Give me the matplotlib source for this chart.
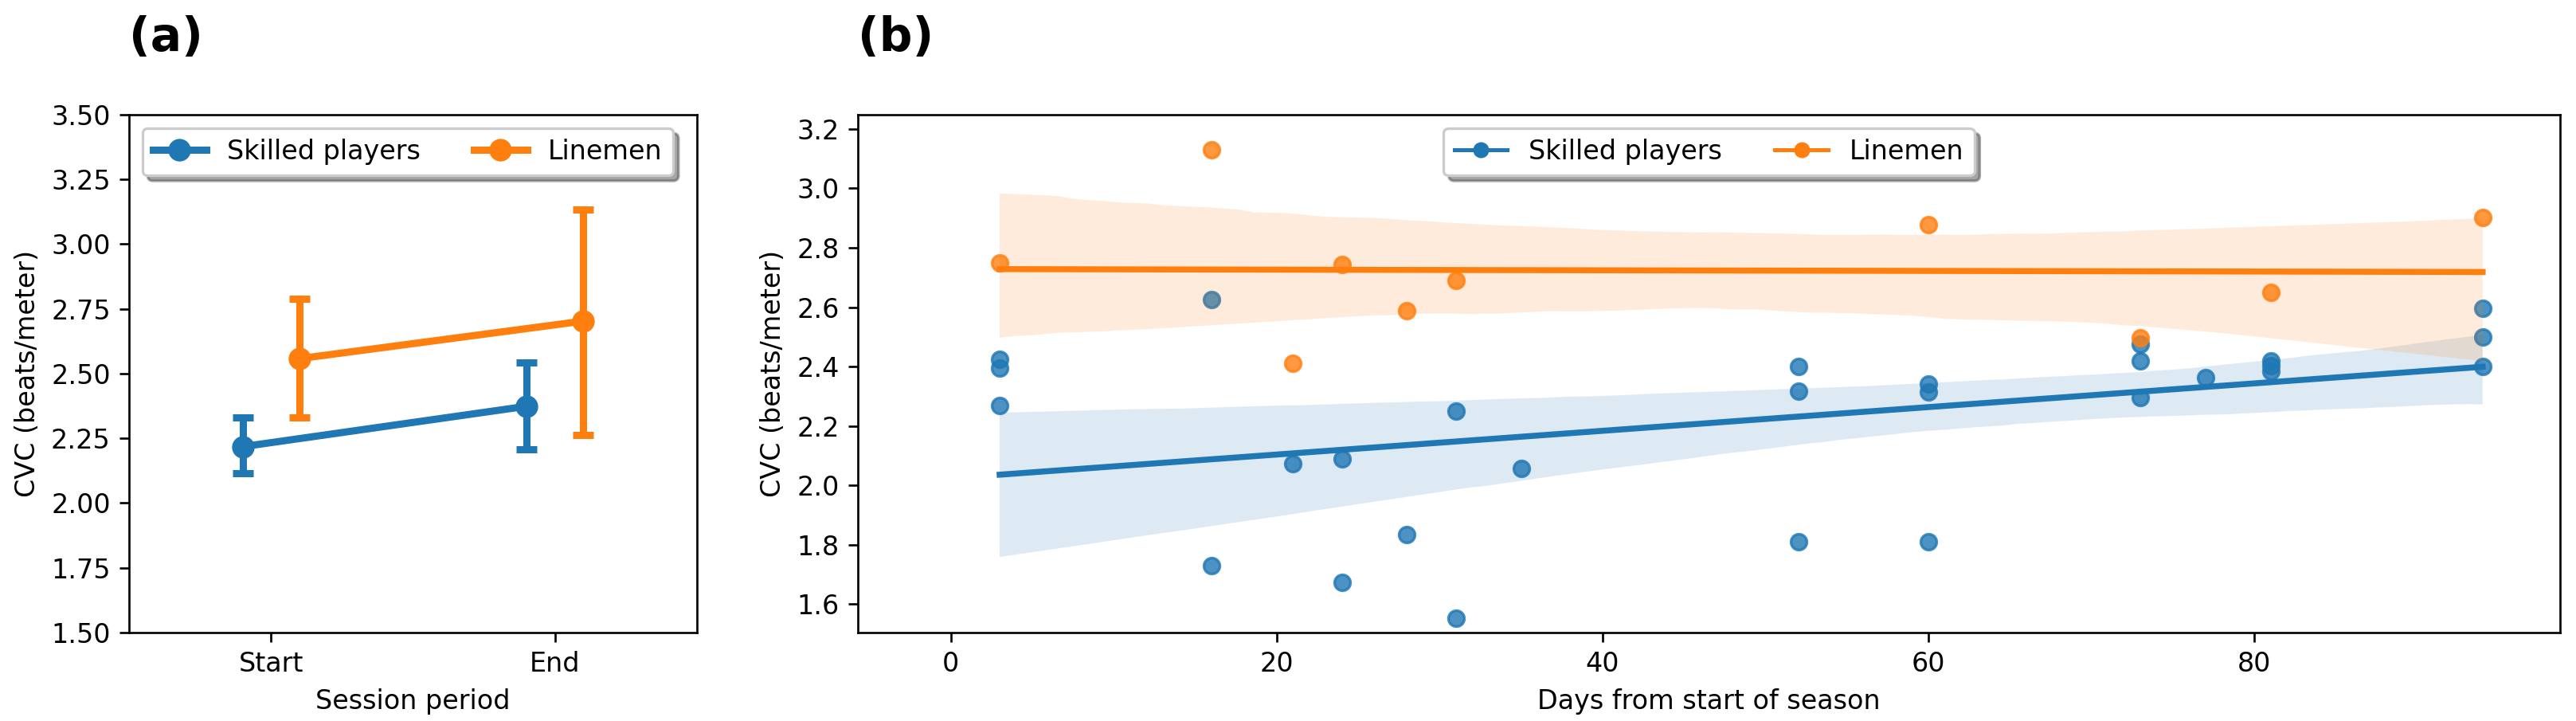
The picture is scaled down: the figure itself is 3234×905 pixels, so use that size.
import matplotlib
matplotlib.use("Agg")
import matplotlib.pyplot as plt
from matplotlib.lines import Line2D
import numpy as np
import seaborn as sns

# ---- Panel (a) data: mean CVC with 95% CI by session period ----
periods = ["Start", "End"]
skilled_mean = [2.218, 2.374]
skilled_lo = [2.114, 2.209]
skilled_hi = [2.332, 2.542]
linemen_mean = [2.558, 2.703]
linemen_lo = [2.332, 2.264]
linemen_hi = [2.790, 3.134]

# ---- Panel (b) data: CVC vs days from start of season ----
skilled_days = [3, 3, 3, 16, 16, 21, 24, 24, 28, 31, 31, 35, 52, 52, 52,
                60, 60, 60, 73, 73, 73, 77, 81, 81, 81, 94, 94, 94]
skilled_cvc = [2.423, 2.396, 2.270, 2.626, 1.730, 2.072, 2.090, 1.672, 1.834,
               2.251, 1.551, 2.057, 2.401, 2.318, 1.809, 2.342, 2.314, 1.809,
               2.476, 2.420, 2.295, 2.363, 2.418, 2.404, 2.385, 2.597, 2.500, 2.401]
linemen_days = [3, 16, 21, 24, 28, 31, 60, 73, 81, 94]
linemen_cvc = [2.748, 3.131, 2.412, 2.744, 2.587, 2.689, 2.879, 2.496, 2.650, 2.902]

groups = ["Skilled players", "Linemen"]
colors = ["#1f77b4", "#ff7f0e"]

W, H, DPI = 3234, 905, 240
fig = plt.figure(figsize=(W / DPI, H / DPI), dpi=DPI)
ax1 = fig.add_axes([162 / W, 1 - 794 / H, (875 - 162) / W, 650 / H])
ax2 = fig.add_axes([1077 / W, 1 - 794 / H, (3214 - 1077) / W, 650 / H])

# ---- Panel (a) ----
x = np.arange(len(periods))
dodge = 0.1
for i, (m, lo, hi) in enumerate([(skilled_mean, skilled_lo, skilled_hi),
                                  (linemen_mean, linemen_lo, linemen_hi)]):
    m = np.array(m); lo = np.array(lo); hi = np.array(hi)
    off = -dodge if i == 0 else dodge
    ax1.errorbar(x + off, m, yerr=[m - lo, hi - m], fmt="-o", color=colors[i],
                 lw=2.7, markersize=7.5, capsize=3.8, capthick=2.7, elinewidth=2.7)
ax1.set_xticks(x)
ax1.set_xticklabels(periods)
ax1.set_xlim(-0.5, 1.5)
ax1.set_ylim(1.5, 3.5)
ax1.set_yticks(np.arange(1.5, 3.51, 0.25))
ax1.set_yticklabels([f"{v:.2f}" for v in np.arange(1.5, 3.51, 0.25)])
ax1.set_xlabel("Session period")
ax1.set_ylabel("CVC (beats/meter)")
h1 = [Line2D([], [], color=c, marker="o", lw=2.7, markersize=7.5) for c in colors]
ax1.legend(h1, groups, loc="upper left", ncol=2, shadow=True)

# ---- Panel (b) ----
sns.regplot(x=np.array(skilled_days), y=np.array(skilled_cvc), ax=ax2,
            color=colors[0], seed=0, truncate=True)
sns.regplot(x=np.array(linemen_days), y=np.array(linemen_cvc), ax=ax2,
            color=colors[1], seed=0, truncate=True)
ax2.set_xlim(-5.7, 98.75)
ax2.set_ylim(1.504, 3.248)
ax2.set_xticks([0, 20, 40, 60, 80])
ax2.set_yticks(np.arange(1.6, 3.21, 0.2))
ax2.set_yticklabels([f"{v:.1f}" for v in np.arange(1.6, 3.21, 0.2)])
ax2.set_xlabel("Days from start of season")
ax2.set_ylabel("CVC (beats/meter)")
h2 = [Line2D([], [], color=c, marker="o", lw=1.5, markersize=5) for c in colors]
ax2.legend(h2, groups, loc="upper center", ncol=2, shadow=True)

fig.text(162 / W, 1 - 64 / H, "(a)", fontsize=17.5, fontweight="bold", va="baseline")
fig.text(1077 / W, 1 - 64 / H, "(b)", fontsize=17.5, fontweight="bold", va="baseline")

fig.savefig("out.png", dpi=DPI)
